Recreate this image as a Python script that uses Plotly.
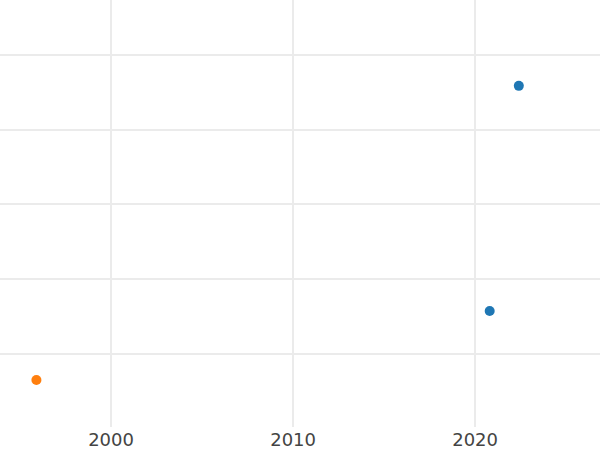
import plotly.graph_objects as go

years_a = [2020.8, 2022.4]
values_a = [1.575, 4.585]
years_b = [1995.9]
values_b = [0.652]

fig = go.Figure()
fig.add_trace(go.Scatter(x=years_a, y=values_a, mode="markers",
                         marker=dict(color="#1f77b4", size=10), showlegend=False))
fig.add_trace(go.Scatter(x=years_b, y=values_b, mode="markers",
                         marker=dict(color="#ff7f0e", size=10), showlegend=False))

fig.update_layout(
    width=600, height=450,
    margin=dict(l=0, r=0, t=0, b=23),
    paper_bgcolor="white", plot_bgcolor="white",
    font=dict(family="DejaVu Sans", size=18, color="#444444"),
)
fig.update_xaxes(range=[1993.90, 2026.86], tickvals=[2000, 2010, 2020],
                 showgrid=True, gridcolor="#ebebeb", gridwidth=2,
                 zeroline=False, showline=False, ticks="")
fig.update_yaxes(range=[0.023, 5.733], dtick=1, tick0=0, showticklabels=False,
                 showgrid=True, gridcolor="#ebebeb", gridwidth=2,
                 zeroline=False, showline=False, ticks="")

fig.write_html("out.html", config={"displayModeBar": False},
               post_script="document.body.style.margin='0';document.body.style.overflow='hidden';")
